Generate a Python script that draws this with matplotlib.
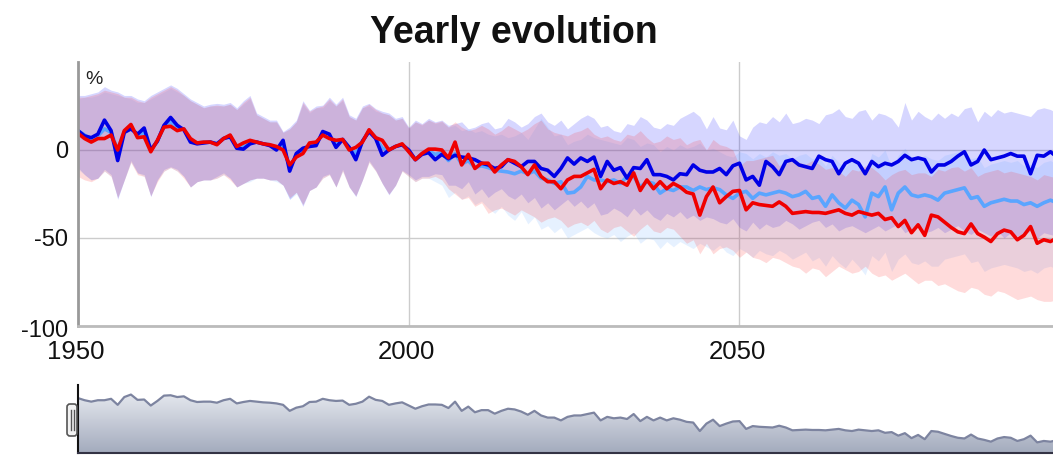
import numpy as np
import matplotlib
matplotlib.use("Agg")
import matplotlib.pyplot as plt
from matplotlib.colors import LinearSegmentedColormap
from matplotlib.patches import FancyBboxPatch

plt.rcParams['font.family'] = ['Liberation Sans', 'DejaVu Sans']

years = np.arange(1950, 2101)

# scenario means (% change), one row per decade
blue_mean = [
    11, 8, 7, 9, 17, 11, -6, 10, 12, 9,
    12.5, 0, 5, 14, 18.5, 14, 11.5, 4.5, 3.5, 4,
    4.5, 3.5, 6.5, 7.5, 1, 0.5, 3.5, 4.5, 3.5, 2.5,
    0, 5.5, -12, -2, 1, 2, 2.5, 10.5, 9, 1.5,
    6, 1.5, -5.5, 5, 10.5, 6.5, -3, 0, 2, 3,
    0, -5.5, -2.5, -1.5, -5.5, -2.5, -5, -3, -4, -4.5,
    -5.5, -7.5, -8.5, -10.5, -9.5, -5.5, -7.5, -9.5, -6.5, -6.5,
    -10.5, -11.5, -15, -10.5, -4.5, -8, -4.5, -6.5, -4, -15,
    -6.5, -11.5, -10, -16, -10, -10.5, -5.5, -14, -14, -15,
    -17, -13.5, -14, -8.5, -11.5, -12.5, -12.5, -10.5, -14, -9,
    -7.5, -17, -15, -20, -6.5, -9.5, -14, -6.5, -5.5, -8.5,
    -9.5, -10.5, -3.5, -5.5, -6.5, -13.5, -7.5, -5.5, -7.5, -13.5,
    -6.5, -9.5, -7.5, -8.5, -6.5, -3, -5.5, -4.5, -5.5, -12.5,
    -8.5, -8.5, -6.5, -3.5, -1, -8.5, -6.5, 0, -5.5, -4.5,
    -3.5, -2, -3.5, -3.5, -13.5, -3, -3.5, -1, -4, -2,
    -5,
]
light_mean = [
    11, 8.5, 6, 8, 12, 10, 0, 10.5, 13, 8,
    10, 0, 5, 13.5, 16, 12.5, 12, 5.5, 4, 4.5,
    4.5, 3.5, 6.5, 8, 2, 2.5, 4.5, 4.5, 3.5, 3,
    1, 3, -10, -3, -0.5, 3, 3.5, 9.5, 7.5, 3.5,
    6, 1, -2, 5, 11, 7, 1, 0, 2, 3,
    -0.5, -5.5, -2, -0.5, -2.5, -1.5, -6, -2, -8, -6,
    -10, -9, -10, -11.5, -12, -12.5, -13.5, -12, -13.5, -12,
    -16, -17, -19, -18, -24.5, -24, -21, -15, -17, -17,
    -18, -17, -19, -15, -15, -21, -18, -19, -24.5, -22,
    -23, -21, -21, -23, -21, -22.5, -21.5, -22.5, -25.5, -27.5,
    -24.5, -23.5, -27.5, -24.5, -25.5, -24.5, -23.5, -24.5, -26.5, -25.5,
    -23.5, -27.5, -26.5, -32, -25.5, -30, -33, -28.5, -31, -38,
    -24.5, -26.5, -21, -34, -24.5, -21, -25.5, -26.5, -25.5, -26.5,
    -28.5, -24.5, -23.5, -22.5, -21.5, -27.5, -26.5, -32, -30, -29,
    -28, -29, -29, -31, -30, -32, -30, -28.5, -30, -31,
    -29,
]
red_mean = [
    9.5, 6.5, 4.5, 6.5, 6.5, 8.5, 0, 11, 14.5, 7,
    7.5, -1, 5.5, 13, 13.5, 11, 12, 6.5, 4, 4.5,
    4.5, 3, 6.5, 8.5, 2, 4, 5.5, 4.5, 3.5, 3,
    2, 0, -8.5, -4, -2, 4, 4.5, 8.5, 6.5, 5.5,
    6, 0, 1.5, 4.5, 11.5, 7, 5.5, 0, 2, 3.5,
    -1, -5.5, -2, 0.5, 0.5, 0, -4.5, 4.5, -8.5, -2.5,
    -10.5, -7.5, -7.5, -12.5, -8.5, -5.5, -6.5, -9.5, -14, -8.5,
    -15, -18, -18, -22, -17, -15, -15, -13, -11, -22,
    -17, -19, -18, -20, -13, -23, -17, -22, -18, -22,
    -19, -21, -24, -25, -37, -26.5, -21, -30, -26.5, -23.5,
    -23, -34, -30, -31, -31.5, -32, -29.5, -32, -36, -35.5,
    -35, -35.5, -35.5, -36, -35, -34, -36, -37, -35, -36,
    -37, -36, -39.5, -38.5, -43.5, -40, -47, -42.5, -48.5, -37,
    -38, -41, -44, -46.5, -47.5, -42, -47.5, -49.5, -52, -47.5,
    -45.5, -46.5, -51, -48.5, -43.5, -53, -51, -52, -50, -53,
    -51,
]

# spread of each scenario (low / high)
blue_high = [
    31, 31, 32, 33, 36, 34, 33, 31, 31, 29,
    28, 31, 33, 35, 37, 35, 32, 29, 27, 25,
    26, 26.5, 26, 27, 24, 28, 31, 21, 19, 17,
    17, 10.5, 13, 17, 28, 22.5, 25, 25.5, 30, 26,
    30, 20, 18, 25, 26.5, 23.5, 22, 21, 18, 19,
    13, 17, 15, 18, 16, 17, 14, 15, 16, 12,
    13, 15, 16, 12, 13, 18, 16, 13, 15, 19,
    21, 16, 14, 17, 12, 15, 18, 20, 18, 13,
    14, 11, 10, 15, 14, 19, 17, 13, 12, 15,
    14, 18, 20, 22, 19, 12, 19, 12.5, 11.5, 17,
    8, 6, 13, 16, 15, 19, 16, 21, 15, 16,
    18, 17, 15, 20, 21, 23.5, 19, 18, 22, 23,
    17, 21, 20, 18, 13, 27, 17, 22, 19, 17,
    21, 18, 21, 19, 23.5, 24.5, 16, 22, 19, 23,
    21, 22, 21, 20, 19, 23, 24, 23, 21, 22,
    20,
]
blue_low = [
    -10, -14, -17, -16, -11, -14, -28, -17, -6, -13,
    -14, -26.5, -17, -11, -9.5, -11, -15, -21, -18, -17,
    -17, -15, -13, -16, -21, -19, -17, -16, -16, -17,
    -17, -20, -28, -24, -32, -23, -21, -15, -13.5, -21,
    -11, -21, -26.5, -17, -6, -11.5, -19, -25.5, -20, -11.5,
    -14, -17, -15, -15, -13.5, -14, -20, -20, -22, -18,
    -25, -22, -27, -24, -22, -26, -28, -25, -30, -27,
    -33, -30, -34, -31, -28, -32, -29, -33, -30, -37,
    -36, -33, -35, -38, -33, -37, -34, -38, -40, -36,
    -38, -35, -39, -37, -40, -38, -39, -41, -42, -39,
    -44, -46, -41, -45, -42, -44, -43, -40, -42, -45,
    -43, -41, -40, -44, -42, -46, -44, -43, -45, -47,
    -45, -43, -46, -44, -42, -47, -45, -44, -47, -46,
    -44, -47, -45, -43, -46, -48, -45, -47, -49, -46,
    -50, -47, -49, -48, -46, -50, -47, -48, -49, -46,
    -48,
]
light_high = [
    29, 30, 30, 31, 33, 32, 31, 30, 29, 27,
    27, 29, 31, 33, 35, 33, 31, 28, 26, 24,
    25, 25, 25, 26, 23, 26, 29, 20, 18, 16,
    16, 10, 12, 16, 26, 21, 24, 24, 28, 25,
    28, 19, 17, 24, 25, 22, 21, 20, 17, 18,
    12, 16, 14, 17, 15, 16, 13, 14, 11, 12,
    10, 11, 9, 8, 9, 7, 8, 10, 6, 12,
    18, 13, 8, 9, 3, 5, 6, 9, 7, 6,
    5, 4, 3, 7, 6, 2, 4, 3, -1, 2,
    0, 3, 1, 2, 4, 0, 1, -1, -3, -4,
    -1, -2, -5, -2, -4, -1, -3, -2, -5, -3,
    -2, -5, -4, -9, -3, -7, -10, -5, -8, -14,
    -2, -4, 0, -10, -3, 1, -4, -5, -3, -5,
    -6, -3, -2, -1, 0, -5, -4, -10, -8, -7,
    -6, -7, -6, -9, -8, -10, -7, -6, -8, -9,
    -7,
]
light_low = [
    -11, -14, -17, -16, -12, -15, -27, -17, -7, -13,
    -15, -26, -17, -12, -10, -12, -15, -21, -18, -17,
    -17, -16, -14, -16, -21, -19, -18, -16, -16, -17,
    -18, -20, -28, -25, -31, -23, -21, -16, -14, -21,
    -12, -21, -26, -17, -7, -12, -19, -25, -20, -12,
    -15, -18, -16, -16, -18, -20, -27, -24, -28, -26,
    -31, -29, -33, -36, -32, -37, -40, -35, -42, -38,
    -45, -43, -47, -44, -50, -48, -46, -44, -47, -49,
    -50, -48, -52, -49, -47, -53, -50, -51, -56, -52,
    -55, -52, -54, -56, -53, -55, -57, -54, -58, -60,
    -56, -58, -61, -57, -59, -60, -57, -59, -62, -60,
    -58, -63, -61, -66, -60, -64, -67, -62, -66, -71,
    -60, -63, -58, -69, -62, -59, -64, -65, -63, -66,
    -66, -62, -61, -60, -59, -64, -63, -69, -67, -66,
    -65, -66, -67, -69, -68, -70, -67, -66, -68, -69,
    -67,
]
red_high = [
    30, 30, 31, 32, 34, 33, 32, 30, 30, 28,
    27, 30, 32, 34, 36, 34, 31, 28, 26, 24,
    25, 25.5, 25, 26, 23, 27, 30, 20, 18, 16,
    16, 10, 12, 16, 27, 22, 24, 25, 29, 25,
    29, 19, 17, 24, 26, 23, 21, 20, 17, 18,
    12.5, 16, 14.5, 17, 15.5, 16.5, 13, 16, 13, 11,
    12, 14, 12, 9, 11, 14, 12, 10, 12, 15,
    17, 12, 10, 9, 8, 10, 11, 13, 9, 7,
    8, 6, 5, 9, 8, 11, 7, 4, 5, 8,
    6, 7, 3, 5, 6, 0, 6, 3, 2, 0,
    -9, -6, -6, -5, -4, -3, -9, -6, -4, -7,
    -8, -6, -8, -11, -10, -12, -15, -11, -12, -9,
    -10, -13, -17, -14, -12, -11, -14, -13, -13, -15,
    -11, -12, -10, -9.5, -12, -10, -15, -13, -12, -11,
    -13, -12, -13, -14, -15, -17, -14, -15, -16, -14,
    -15,
]
red_low = [
    -15, -17, -18, -16, -12, -15, -27, -17, -7, -14,
    -15, -26, -18, -12, -10, -12, -16, -21, -18, -17,
    -17, -16, -14, -17, -21, -19, -17, -16, -16, -17,
    -17, -20, -27, -24, -31, -23, -21, -16, -14, -21,
    -12, -21, -26, -17, -7, -12, -19, -25, -20, -12,
    -15, -18, -16, -16, -15, -17, -22, -25, -28, -27,
    -32, -30, -36, -34, -33, -35, -37, -34, -36, -38,
    -41, -39, -38, -40, -44, -42, -41, -43, -40, -45,
    -47, -44, -43, -46, -49, -45, -42, -46, -47, -44,
    -45, -49, -53, -51, -59, -53, -59, -56, -55, -57,
    -61, -58, -61, -62, -64, -61, -62, -64, -66, -67,
    -70, -67, -68, -72, -69, -66, -68, -70, -69, -66,
    -70, -72, -71, -74, -72, -70, -73, -76, -74, -74,
    -77, -76, -78, -80, -81, -78, -79, -82, -83, -80,
    -81, -83, -85, -84, -83, -85, -86, -86, -85, -87,
    -86,
]

y_ticks = [-100, -50, 0]
x_ticks = [1950, 2000, 2050]

W, H = 1053, 457
fig = plt.figure(figsize=(W / 100, H / 100), dpi=100)

left, top, bottom = 78, 62, 326
px_per_year = 6.615
x_end = 1950 + (W - left) / px_per_year

ax = fig.add_axes([left / W, 1 - bottom / H, 1 - left / W, (bottom - top) / H])
ax.set_xlim(1950, x_end)
ax.set_ylim(-100, 50)

ax.fill_between(years, blue_low, blue_high, color='#0000ff', alpha=0.16, lw=0)
ax.fill_between(years, light_low, light_high, color='#5aa5ff', alpha=0.15, lw=0)
ax.fill_between(years, red_low, red_high, color='#ff2020', alpha=0.16, lw=0)

ax.plot(years, light_mean, color='#5aa5ff', lw=2.6)
ax.plot(years, blue_mean, color='#0000e6', lw=2.6)
ax.plot(years, red_mean, color='#f00000', lw=2.6)

ax.set_axisbelow(True)
ax.set_yticks(y_ticks)
ax.set_xticks(x_ticks)
ax.grid(True, color='#cccccc', lw=1)
ax.tick_params(length=0, labelleft=False, labelbottom=False)
for side in ['top', 'right']:
    ax.spines[side].set_visible(False)
ax.spines['left'].set_color('#999999')
ax.spines['left'].set_linewidth(2)
ax.spines['bottom'].set_color('#bbbbbb')
ax.spines['bottom'].set_linewidth(2)

# pixel overlay for labels and the navigator handle
ov = fig.add_axes([0, 0, 1, 1], zorder=5)
ov.set_xlim(0, W)
ov.set_ylim(H, 0)
ov.axis('off')

ov.text(514, 43, 'Yearly evolution', fontsize=27, fontweight='bold',
        ha='center', va='baseline', color='#111111')
ov.text(94, 80, '%', fontsize=14, ha='center', va='center', color='#222222')

for v in y_ticks:
    py = bottom - (v + 100) * (bottom - top) / 150
    ov.text(68, py + (5 if v == -100 else 2), str(v), fontsize=17,
            ha='right', va='center', color='#111111')
for yr in x_ticks:
    px = left + (yr - 1950) * px_per_year
    ov.text(px - 2, 352, str(yr), fontsize=18.5, ha='center', va='center',
            color='#111111')

# navigator strip
nav_top, nav_bottom = 385, 453
nav = fig.add_axes([left / W, 1 - nav_bottom / H, 1 - left / W,
                    (nav_bottom - nav_top) / H])
nav_lo, nav_hi = -68, 28
area = nav.fill_between(years, red_mean, nav_lo, color='none', lw=0)
grad = np.linspace(0, 1, 256).reshape(-1, 1)
cmap = LinearSegmentedColormap.from_list('nav', ['#a3abbd', '#eef0f5'])
img = nav.imshow(grad, cmap=cmap, aspect='auto', origin='lower',
                 extent=[1950, 2100, nav_lo, nav_hi])
img.set_clip_path(area.get_paths()[0], transform=nav.transData)
nav.plot(years, red_mean, color='#7d84a0', lw=1.6)
nav.set_xlim(1950, x_end)
nav.set_ylim(nav_lo, nav_hi)
nav.set_xticks([])
nav.set_yticks([])
for side in ['top', 'right']:
    nav.spines[side].set_visible(False)
nav.spines['left'].set_color('#111111')
nav.spines['left'].set_linewidth(1.5)
nav.spines['bottom'].set_color('#333344')
nav.spines['bottom'].set_linewidth(1.5)

handle = FancyBboxPatch((67, 404), 10, 32, boxstyle='round,pad=0,rounding_size=3',
                        fc='#f2f2f2', ec='#555555', lw=1.2)
ov.add_patch(handle)
ov.plot([70.5, 70.5], [410, 430], color='#555555', lw=1)
ov.plot([73.5, 73.5], [410, 430], color='#555555', lw=1)

fig.savefig('out.png', dpi=100)
